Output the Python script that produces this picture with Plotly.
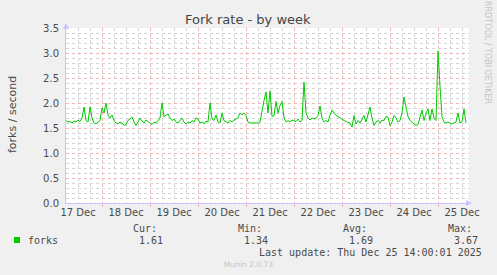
import pandas as pd
import plotly.graph_objects as go

# ---- data (hourly samples) ----
start_time = "2025-12-17 06:00"
dec17 = [1.65, 1.62, 1.63, 1.60, 1.64, 1.62, 1.66, 1.63, 1.70, 1.92, 1.65, 1.62,
         1.92, 1.70, 1.60, 1.58, 1.62, 1.65]
dec18 = [1.90, 1.80, 2.00, 1.76, 1.70, 1.76, 1.65, 1.60, 1.58, 1.62, 1.60, 1.55,
         1.57, 1.65, 1.68, 1.72, 1.62, 1.55, 1.62, 1.70, 1.64, 1.60, 1.66, 1.62]
dec19 = [1.60, 1.57, 1.62, 1.60, 1.65, 1.70, 2.00, 1.72, 1.76, 1.78, 1.70, 1.65,
         1.68, 1.62, 1.60, 1.65, 1.70, 1.62, 1.58, 1.62, 1.60, 1.65, 1.62, 1.70]
dec20 = [1.68, 1.60, 1.62, 1.58, 1.64, 1.62, 2.00, 1.68, 1.65, 1.76, 1.62, 1.60,
         1.80, 1.65, 1.62, 1.60, 1.65, 1.62, 1.66, 1.68, 1.70, 1.80, 1.76, 1.80]
dec21 = [1.75, 1.62, 1.60, 1.60, 1.60, 1.60, 1.60, 1.62, 1.85, 2.05, 2.22, 1.80,
         2.24, 1.73, 1.75, 2.03, 1.80, 1.95, 2.03, 1.70, 1.62, 1.65, 1.62, 1.66]
dec22 = [1.65, 1.63, 1.68, 1.62, 1.65, 2.42, 1.80, 1.70, 1.66, 1.70, 1.68, 1.70,
         1.75, 1.94, 1.70, 1.62, 1.65, 1.62, 1.75, 1.86, 1.80, 1.75, 1.73, 1.70]
dec23 = [1.68, 1.65, 1.63, 1.62, 1.60, 1.52, 1.75, 1.58, 1.65, 1.60, 1.68, 1.75,
         1.62, 1.80, 1.92, 1.70, 1.55, 1.62, 1.65, 1.60, 1.66, 1.65, 1.73, 1.72]
dec24 = [1.55, 1.62, 1.75, 1.70, 1.62, 1.65, 1.80, 2.12, 1.95, 1.73, 1.65, 1.62,
         1.58, 1.55, 1.57, 1.70, 1.86, 1.65, 1.80, 1.88, 1.65, 1.88, 1.70, 1.65]
dec25 = [3.04, 2.33, 1.73, 1.62, 1.60, 1.62, 1.60, 1.58, 1.60, 1.62, 1.80, 1.60,
         1.62, 1.88, 1.60]

day_labels = ["17 Dec", "18 Dec", "19 Dec", "20 Dec", "21 Dec", "22 Dec",
              "23 Dec", "24 Dec", "25 Dec"]
label_times = ["2025-12-17 12:00", "2025-12-18 12:00", "2025-12-19 12:00",
               "2025-12-20 12:00", "2025-12-21 12:00", "2025-12-22 12:00",
               "2025-12-23 12:00", "2025-12-24 12:00", "2025-12-25 12:00"]
midnights = ["2025-12-18", "2025-12-19", "2025-12-20", "2025-12-21",
             "2025-12-22", "2025-12-23", "2025-12-24", "2025-12-25"]
x_range = ["2025-12-17 06:00", "2025-12-25 15:30"]
y_ticks = [0.0, 0.5, 1.0, 1.5, 2.0, 2.5, 3.0, 3.5]

series_name = "forks"
stat_heads = ["Cur:", "Min:", "Avg:", "Max:"]
stat_values = ["1.61", "1.34", "1.69", "3.67"]

values = dec17 + dec18 + dec19 + dec20 + dec21 + dec22 + dec23 + dec24 + dec25
times = pd.date_range(start_time, periods=len(values), freq="h")

# ---- layout geometry ----
W, H = 497, 275
L, R, T, B = 66, 28, 28, 72
PW, PH = W - L - R, H - T - B


def px(x):
    return (x - L) / PW


def py(y):
    return (H - B - y) / PH


GREEN = "#00cc00"
MAJOR = "#f0b4b4"
MINOR = "#d4d4d4"
AXIS = "#c4c4ff"
TXT = "#4a4a4a"
MONO = "DejaVu Sans Mono"
SANS = "DejaVu Sans"

fig = go.Figure()
fig.add_trace(go.Scatter(x=times, y=values, mode="lines",
                         line=dict(color=GREEN, width=1), name=series_name,
                         showlegend=False, hoverinfo="skip"))
fig.add_trace(go.Scatter(x=x_range, y=[None, None], xaxis="x2",
                         showlegend=False, hoverinfo="skip"))

fig.update_layout(
    width=W, height=H,
    margin=dict(l=L, r=R, t=T, b=B, pad=0),
    paper_bgcolor="#f0f0f0", plot_bgcolor="#ffffff",
    font=dict(family=SANS, size=10, color=TXT),
    xaxis=dict(
        type="date", range=x_range, tickmode="array",
        tickvals=label_times, ticktext=day_labels,
        showgrid=False, zeroline=False, ticks="",
        showline=True, linecolor=AXIS, linewidth=1,
        tickfont=dict(family=SANS, size=10, color=TXT),
        minor=dict(tickmode="linear", tick0="2025-12-17 00:00",
                   dtick=6 * 3600 * 1000, showgrid=True, gridcolor=MINOR,
                   griddash="dot", gridwidth=1, ticks=""),
    ),
    xaxis2=dict(
        type="date", range=x_range, overlaying="x", side="bottom",
        tickmode="array", tickvals=midnights, showticklabels=False,
        showgrid=True, gridcolor=MAJOR, griddash="dot", gridwidth=1,
        ticks="outside", ticklen=3, tickcolor=MAJOR, zeroline=False,
        showline=False,
    ),
    yaxis=dict(
        range=[0, 3.5], tickmode="array", tickvals=y_ticks,
        tickformat=".1f", showgrid=True, gridcolor=MAJOR, griddash="dot",
        gridwidth=1, zeroline=False, ticks="", showline=True,
        linecolor=AXIS, linewidth=1, ticklabelstandoff=4,
        tickfont=dict(family=SANS, size=10, color=TXT),
        minor=dict(tickmode="linear", tick0=0, dtick=0.1, showgrid=True,
                   gridcolor=MINOR, griddash="dot", gridwidth=1, ticks=""),
    ),
)

ann = []
# title
ann.append(dict(text="Fork rate - by week", x=px(248), y=py(19), xref="paper",
                yref="paper", showarrow=False, xanchor="center",
                yanchor="middle", font=dict(family=SANS, size=13,
                                            color="#444444")))
# y title
ann.append(dict(text="forks / second", x=px(12), y=py(115), xref="paper",
                yref="paper", showarrow=False, textangle=-90,
                xanchor="center", yanchor="middle",
                font=dict(family=SANS, size=11, color=TXT)))
# watermark
ann.append(dict(text="RRDTOOL / TOBI OETIKER", x=px(488), y=py(53),
                xref="paper", yref="paper", showarrow=False, textangle=90,
                xanchor="center", yanchor="middle",
                font=dict(family=SANS, size=8, color="#c4c4c4")))
# axis arrows
ann.append(dict(x=px(472), y=0, xref="paper", yref="paper", ax=-6, ay=0,
                axref="pixel", ayref="pixel", showarrow=True, arrowhead=2,
                arrowsize=1.2, arrowwidth=1, arrowcolor=AXIS, text=""))
ann.append(dict(x=0, y=py(23), xref="paper", yref="paper", ax=0, ay=6,
                axref="pixel", ayref="pixel", showarrow=True, arrowhead=2,
                arrowsize=1.2, arrowwidth=1, arrowcolor=AXIS, text=""))
# legend
ann.append(dict(text=series_name, x=px(26), y=py(240), xref="paper",
                yref="paper", showarrow=False, xanchor="left",
                yanchor="middle", font=dict(family=MONO, size=10, color=TXT)))
head_left = [131, 236, 341, 446]
val_left = [137, 242, 347, 452]
for hx, vx, h, v in zip(head_left, val_left, stat_heads, stat_values):
    ann.append(dict(text=h, x=px(hx), y=py(228), xref="paper", yref="paper",
                    showarrow=False, xanchor="left", yanchor="middle",
                    font=dict(family=MONO, size=10, color=TXT)))
    ann.append(dict(text=v, x=px(vx), y=py(240), xref="paper", yref="paper",
                    showarrow=False, xanchor="left", yanchor="middle",
                    font=dict(family=MONO, size=10, color=TXT)))
ann.append(dict(text="Last update: Thu Dec 25 14:00:01 2025", x=px(484),
                y=py(252), xref="paper", yref="paper", showarrow=False,
                xanchor="right", yanchor="middle",
                font=dict(family=MONO, size=10, color=TXT)))
ann.append(dict(text="Munin 2.0.73", x=px(248), y=py(264), xref="paper",
                yref="paper", showarrow=False, xanchor="center",
                yanchor="middle", font=dict(family=SANS, size=7.5,
                                            color="#c4c4c4")))
fig.update_layout(annotations=ann)

fig.add_shape(type="rect", xref="paper", yref="paper", x0=px(14), x1=px(20),
              y0=py(243), y1=py(237), fillcolor=GREEN, line=dict(width=0))

fig.write_html("out.html")
